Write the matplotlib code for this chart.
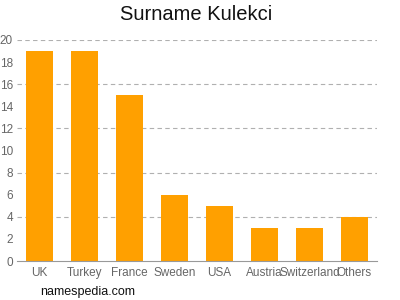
import matplotlib
matplotlib.use("Agg")
import matplotlib.pyplot as plt

plt.rcParams["font.family"] = ["Liberation Sans", "DejaVu Sans"]

categories = ["UK", "Turkey", "France", "Sweden", "USA", "Austria", "Switzerland", "Others"]
values = [19, 19, 15, 6, 5, 3, 3, 4]
yticks = [0, 2, 4, 6, 8, 10, 12, 14, 16, 18, 20]
grid_vals = [4, 8, 12, 16, 20]

fig = plt.figure(figsize=(4, 3), dpi=100)
ax = fig.add_axes([17/400, 1 - 261/300, 360/400, 221/300])
x = list(range(len(categories)))
ax.bar(x, values, width=0.62, color="#FFA000", zorder=2)
ax.set_xlim(-0.5, len(categories) - 0.5)
ax.set_ylim(0, 20)
for g in grid_vals:
    ax.axhline(g, color="#b0b0b0", linestyle=(0, (4, 3)), linewidth=0.8, zorder=1)
ax.set_yticks(yticks)
ax.set_xticks(x)
ax.set_xticklabels(categories)
ax.tick_params(axis="both", colors="#666666", labelsize=8.5, length=0)
ax.tick_params(axis="y", pad=3)
ax.tick_params(axis="x", pad=4)
for s in ["top", "right", "left"]:
    ax.spines[s].set_visible(False)
ax.spines["bottom"].set_color("#999999")
ax.spines["bottom"].set_linewidth(0.8)
for lbl in ax.get_xticklabels() + ax.get_yticklabels():
    lbl.set_color("#666666")
fig.text(0.49, 1 - 15/300, "Surname Kulekci", ha="center", va="center", fontsize=14.5, color="#111111")
fig.text(40/400, 1 - 292/300, "namespedia.com", ha="left", va="center", fontsize=9, color="#111111")
fig.savefig("out.png", dpi=100)
